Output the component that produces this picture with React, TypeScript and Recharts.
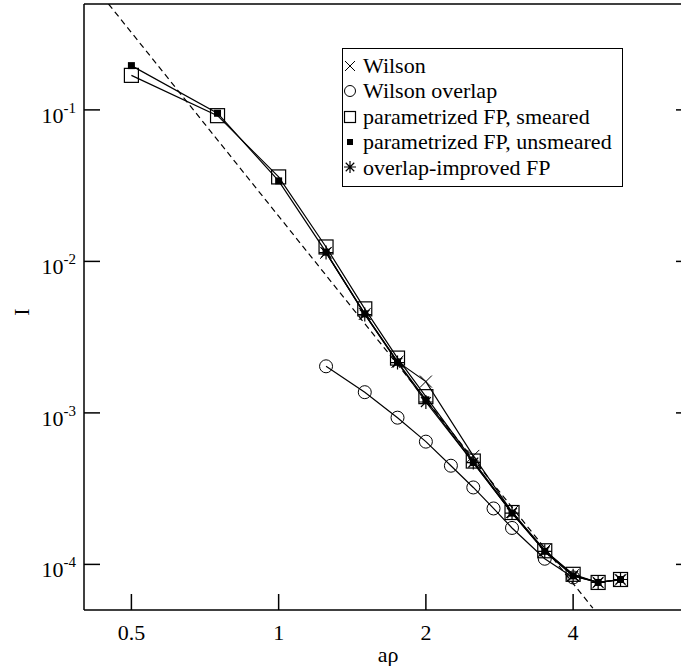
import { ComposedChart, Line, XAxis, YAxis, Legend } from "recharts"

const FONT = "'Liberation Serif', 'DejaVu Serif', serif"

// a*rho values and instanton density I
const wilsonX = [1.25, 1.5, 1.75, 2, 2.5, 3, 3.5, 4, 4.5, 5]
const wilsonI = [0.0114, 0.0045, 0.00218, 0.00161, 0.00052, 0.000222, 0.000124, 8.5e-5, 7.6e-5, 7.9e-5]

const overlapX = [1.25, 1.5, 1.75, 2, 2.25, 2.5, 2.75, 3, 3.5, 4]
const overlapI = [0.00203, 0.00137, 0.00093, 0.000646, 0.000448, 0.000322, 0.000234, 0.000174, 0.000109, 8.2e-5]

const fpX = [0.5, 0.75, 1, 1.25, 1.5, 1.75, 2, 2.5, 3, 3.5, 4, 4.5, 5]
const fpSmearedI = [0.169, 0.0916, 0.0361, 0.01245, 0.00486, 0.0023, 0.00128, 0.000481, 0.00022, 0.000123, 8.6e-5, 7.6e-5, 7.95e-5]
const fpUnsmearedI = [0.196, 0.095, 0.034, 0.0115, 0.0045, 0.00217, 0.00122, 0.00047, 0.000218, 0.000122, 8.4e-5, 7.6e-5, 7.95e-5]

const improvedX = [1.25, 1.5, 1.75, 2, 2.5, 3, 3.5, 4, 4.5, 5]
const improvedI = [0.01143, 0.00446, 0.00215, 0.00118, 0.00047, 0.000218, 0.000122, 8.4e-5, 7.6e-5, 7.95e-5]

// dashed power-law guide line, end points
const fitX = [0.449, 4.39]
const fitI = [0.5, 5.14e-5]

const xTicks = [0.5, 1, 2, 4]
const yTicks = [1e-4, 1e-3, 1e-2, 1e-1]

const toPoints = (xs: number[], ys: number[]) => xs.map((x, i) => ({ x, y: ys[i] }))

const TICK_LEN = 16

const Cross = ({ cx, cy, s = 6 }: any) => (
  <path d={`M${cx - s},${cy - s}L${cx + s},${cy + s}M${cx - s},${cy + s}L${cx + s},${cy - s}`} stroke="#000" strokeWidth={1} fill="none" />
)
const Ring = ({ cx, cy, r = 6.5 }: any) => (
  <circle cx={cx} cy={cy} r={r} stroke="#000" strokeWidth={1} fill="none" />
)
const OpenSquare = ({ cx, cy, s = 7 }: any) => (
  <rect x={cx - s} y={cy - s} width={2 * s} height={2 * s} stroke="#000" strokeWidth={1.2} fill="none" />
)
const FilledSquare = ({ cx, cy, s = 3.5 }: any) => (
  <rect x={cx - s} y={cy - s} width={2 * s} height={2 * s} fill="#000" />
)
const Star = ({ cx, cy, r = 7 }: any) => {
  const d = r * 0.7071
  return (
    <path
      d={`M${cx - r},${cy}L${cx + r},${cy}M${cx},${cy - r}L${cx},${cy + r}M${cx - d},${cy - d}L${cx + d},${cy + d}M${cx - d},${cy + d}L${cx + d},${cy - d}`}
      stroke="#000"
      strokeWidth={1.2}
      fill="none"
    />
  )
}

const BottomTick = ({ x, y, payload }: any) => (
  <g>
    <line x1={x} y1={y} x2={x} y2={y - TICK_LEN} stroke="#000" strokeWidth={1.5} />
    <text x={x} y={y + 30} textAnchor="middle" fontSize={22} fontFamily={FONT} fill="#000">
      {payload.value}
    </text>
  </g>
)

const TopTick = ({ x, y }: any) => (
  <line x1={x} y1={y} x2={x} y2={y + TICK_LEN} stroke="#000" strokeWidth={1.5} />
)

const LeftTick = ({ x, y, payload }: any) => {
  const exp = Math.round(Math.log10(payload.value))
  return (
    <g>
      <line x1={x} y1={y} x2={x + TICK_LEN} y2={y} stroke="#000" strokeWidth={1.5} />
      <text x={x - 8} y={y + 13} textAnchor="end" fontSize={22} fontFamily={FONT} fill="#000">
        10
        <tspan fontSize={15} dy={-10}>{String(exp)}</tspan>
      </text>
    </g>
  )
}

const RightTick = ({ x, y }: any) => (
  <line x1={x} y1={y} x2={x - TICK_LEN} y2={y} stroke="#000" strokeWidth={1.5} />
)

const legendItems = [
  { name: "Wilson", icon: <Cross cx={7} cy={7} s={5} /> },
  { name: "Wilson overlap", icon: <Ring cx={7} cy={7} r={5.5} /> },
  { name: "parametrized FP, smeared", icon: <OpenSquare cx={7} cy={7} s={5.5} /> },
  { name: "parametrized FP, unsmeared", icon: <FilledSquare cx={7} cy={7} s={3} /> },
  { name: "overlap-improved FP", icon: <Star cx={7} cy={7} r={6} /> },
]

const LegendBox = () => (
  <div
    style={{
      border: "1.5px solid #000",
      background: "#fff",
      width: 281,
      boxSizing: "border-box",
      padding: "4px 0 6px 0",
      fontFamily: FONT,
      fontSize: 22,
      lineHeight: "25.4px",
      color: "#000",
    }}
  >
    {legendItems.map((it) => (
      <div key={it.name} style={{ display: "flex", alignItems: "center", whiteSpace: "nowrap" }}>
        <svg width={14} height={14} style={{ marginRight: 6, flex: "none" }}>
          {it.icon}
        </svg>
        {it.name}
      </div>
    ))}
  </div>
)

const dotOf = (Shape: any) => (p: any) => <Shape key={p.index} cx={p.cx} cy={p.cy} />

export default function App() {
  return (
    <div style={{ position: "absolute", left: 0, top: 0, width: 681, height: 666, overflow: "hidden", background: "#fff" }}>
      <ComposedChart width={700} height={666} margin={{ top: 0, right: 0, bottom: 0, left: 0 }}>
        <XAxis
          type="number"
          dataKey="x"
          scale="log"
          domain={[0.4, 7]}
          allowDataOverflow
          ticks={xTicks}
          interval={0}
          tickSize={0}
          tickMargin={0}
          height={56}
          tick={<BottomTick />}
          axisLine={{ stroke: "#000", strokeWidth: 1.5 }}
          label={{
            content: ({ viewBox }: any) => (
              <text x={viewBox.x + viewBox.width / 2} y={662} textAnchor="middle" fontSize={22} fontFamily={FONT} fill="#000">
                aρ
              </text>
            ),
          }}
        />
        <XAxis
          xAxisId="top"
          orientation="top"
          type="number"
          scale="log"
          domain={[0.4, 7]}
          allowDataOverflow
          ticks={xTicks}
          interval={0}
          tickSize={0}
          tickMargin={0}
          height={4}
          tick={<TopTick />}
          axisLine={{ stroke: "#000", strokeWidth: 1.5 }}
        />
        <YAxis
          type="number"
          scale="log"
          domain={[5e-5, 0.5]}
          allowDataOverflow
          ticks={yTicks}
          interval={0}
          tickSize={0}
          tickMargin={0}
          width={84}
          tick={<LeftTick />}
          axisLine={{ stroke: "#000", strokeWidth: 1.5 }}
          label={{
            content: ({ viewBox }: any) => {
              const cy = viewBox.y + viewBox.height / 2 + 5
              return (
                <text x={29} y={cy} transform={`rotate(-90 29 ${cy})`} textAnchor="middle" fontSize={22} fontFamily={FONT} fill="#000">
                  I
                </text>
              )
            },
          }}
        />
        <YAxis
          yAxisId="right"
          orientation="right"
          type="number"
          scale="log"
          domain={[5e-5, 0.5]}
          allowDataOverflow
          ticks={yTicks}
          interval={0}
          tickSize={0}
          tickMargin={0}
          width={8}
          tick={<RightTick />}
          axisLine={{ stroke: "#000", strokeWidth: 1.5 }}
        />
        <Legend
          layout="vertical"
          align="center"
          verticalAlign="middle"
          content={<LegendBox />}
          wrapperStyle={{ left: 342, top: 48, width: "auto" }}
        />
        <Line
          data={toPoints(fitX, fitI)}
          dataKey="y"
          stroke="#000"
          strokeWidth={1.2}
          strokeDasharray="6 4"
          dot={false}
          isAnimationActive={false}
          legendType="none"
        />
        <Line data={toPoints(overlapX, overlapI)} dataKey="y" name="Wilson overlap" stroke="#000" strokeWidth={1.2} dot={dotOf(Ring)} isAnimationActive={false} />
        <Line data={toPoints(wilsonX, wilsonI)} dataKey="y" name="Wilson" stroke="#000" strokeWidth={1.2} dot={dotOf(Cross)} isAnimationActive={false} />
        <Line data={toPoints(fpX, fpSmearedI)} dataKey="y" name="parametrized FP, smeared" stroke="#000" strokeWidth={1.2} dot={dotOf(OpenSquare)} isAnimationActive={false} />
        <Line data={toPoints(fpX, fpUnsmearedI)} dataKey="y" name="parametrized FP, unsmeared" stroke="#000" strokeWidth={1.2} dot={dotOf(FilledSquare)} isAnimationActive={false} />
        <Line data={toPoints(improvedX, improvedI)} dataKey="y" name="overlap-improved FP" stroke="#000" strokeWidth={1.2} dot={dotOf(Star)} isAnimationActive={false} />
      </ComposedChart>
    </div>
  )
}
